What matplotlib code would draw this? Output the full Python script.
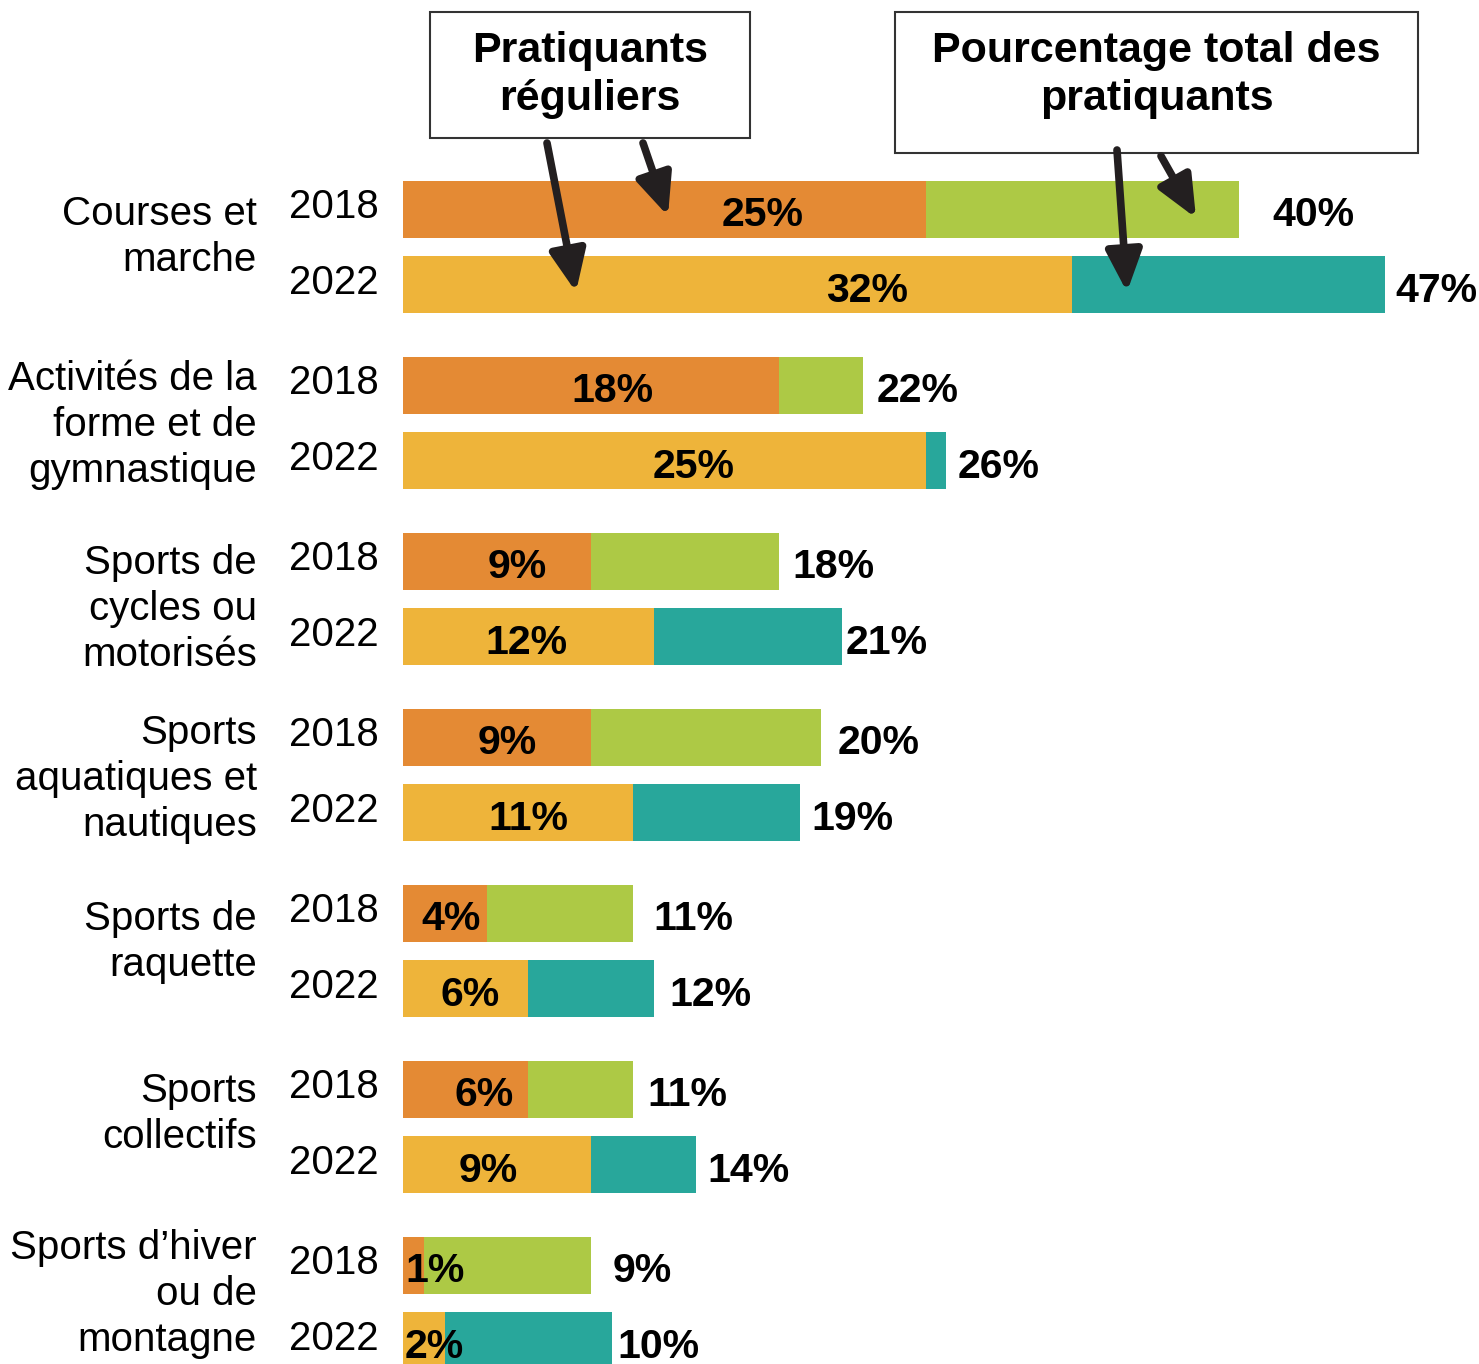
import matplotlib.pyplot as plt
from matplotlib.patches import FancyArrowPatch, Rectangle

# data (percent)
categories = ['Courses et\nmarche', 'Activités de la\nforme et de\ngymnastique',
              'Sports de\ncycles ou\nmotorisés', 'Sports\naquatiques et\nnautiques',
              'Sports de\nraquette', 'Sports\ncollectifs', 'Sports d\u2019hiver\nou de\nmontagne']
years = ['2018', '2022']
regular_2018 = [25, 18, 9, 9, 4, 6, 1]
total_2018 = [40, 22, 18, 20, 11, 11, 9]
regular_2022 = [32, 25, 12, 11, 6, 9, 2]
total_2022 = [47, 26, 21, 19, 12, 14, 10]

# layout tweaks (label placement, in % units / pixels)
inner_shift = [[4.7, 6.2], [1.0, 1.4], [0.95, -0.1], [0.5, 0.5], [0.3, 0.2], [0.9, -0.4], [0, 0]]
outer_gap = [[33, 10], [14, 11], [13, 4], [17, 11], [20, 16], [14, 12], [22, 5]]
cat_dy = [-12, 0, 8, 2, -11, -15, -11]

c_reg = ['#E48A34', '#EEB43A']
c_tot = ['#ADC945', '#28A79B']

W, H = 1479, 1364
PX = 20.9      # pixels per percent
X0 = 403       # pixel of 0 %
FS = 29
FSB = 29.5

plt.rcParams['font.family'] = ['Liberation Sans', 'DejaVu Sans']
fig = plt.figure(figsize=(W / 100, H / 100), dpi=100)
ax = fig.add_axes([0, 0, 1, 1])
ax.set_xlim(-X0 / PX, (W - X0) / PX)
ax.set_ylim(H, 0)
ax.axis('off')

regs = [regular_2018, regular_2022]
tots = [total_2018, total_2022]
for i, cat in enumerate(categories):
    for j in range(2):
        yc = 209.5 + 176 * i + 75 * j
        r, t = regs[j][i], tots[j][i]
        ax.barh(yc, r, height=57, color=c_reg[j], left=0)
        ax.barh(yc, t - r, height=57, color=c_tot[j], left=r)
        if r < 3:
            ax.text(0.1, yc + 6, f'{r}%', ha='left', va='center',
                    fontsize=FSB, fontweight='bold')
        else:
            ax.text(r / 2 + inner_shift[i][j], yc + 6, f'{r}%', ha='center',
                    va='center', fontsize=FSB, fontweight='bold')
        ax.text(t + outer_gap[i][j] / PX, yc + 6, f'{t}%', ha='left', va='center',
                fontsize=FSB, fontweight='bold')
        ax.text((379 - X0) / PX, yc - 2, years[j], ha='right', va='center', fontsize=FS)
    ax.text((257 - X0) / PX, 249 + 176 * i + cat_dy[i], cat, ha='right', va='center',
            fontsize=FS, linespacing=1.26)


def fp(x, y):
    return (x / W, 1 - y / H)


# boxes
for (x1, y1, x2, y2), txt in [((430, 12, 750, 138), 'Pratiquants\nréguliers'),
                              ((895, 12, 1418, 153), 'Pourcentage total des\npratiquants')]:
    fig.patches.append(Rectangle(fp(x1, y2), (x2 - x1) / W, (y2 - y1) / H,
                                 transform=fig.transFigure, fill=False,
                                 edgecolor='#333333', lw=1.5))
    fig.text((x1 + x2) / 2 / W, 1 - 75 / H, txt, ha='center', va='center',
             fontsize=31, fontweight='bold', linespacing=1.26)

# arrows
for a, b in [((547, 143), (576, 292)), ((643, 143), (668, 216)),
             ((1117, 150), (1127, 292)), ((1161, 156), (1196, 218))]:
    fig.patches.append(FancyArrowPatch(fp(*a), fp(*b), transform=fig.transFigure,
                                       arrowstyle='-|>,head_length=1.25,head_width=0.55',
                                       mutation_scale=20, lw=5.5, color='#231F20',
                                       shrinkA=0, shrinkB=0))

plt.savefig('out.png', dpi=100)
